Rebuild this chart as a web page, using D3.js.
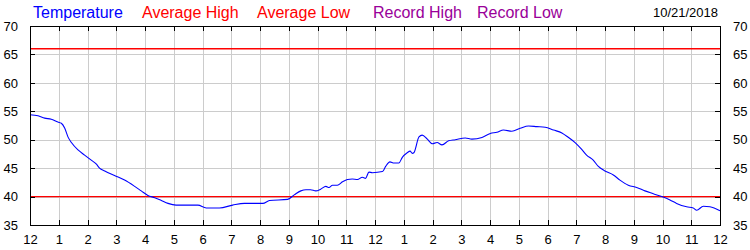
<!DOCTYPE html>
<html>
<head>
<meta charset="utf-8">
<script src="https://cdnjs.cloudflare.com/ajax/libs/d3/7.8.5/d3.min.js"></script>
<style>
  body { margin: 0; background: #fff; }
  svg { display: block; font-family: "Liberation Sans", Arial, sans-serif; }
  .grid line { stroke: #cccccc; shape-rendering: crispEdges; }
  .axis path, .axis line { stroke: #000; shape-rendering: crispEdges; }
  .axis text { font-size: 13px; fill: #000; }
</style>
</head>
<body>
<div id="chart"></div>
<script>
// hours since midnight and temperature readings (F)
var hours = [0, 0.28, 0.51, 0.74, 0.97, 1.09, 1.21, 1.32, 1.44, 1.67, 1.90, 2.13, 2.31, 2.42, 2.60, 2.94,
    3.29, 3.64, 3.87, 4.10, 4.34, 4.57, 4.80, 5.08, 5.84, 6.13, 6.59, 7.05, 7.46, 8.10, 8.33, 8.96,
    9.19, 9.42, 9.60, 9.76, 9.94, 10.11, 10.29, 10.40, 10.52, 10.69, 10.87, 11.04, 11.21, 11.39, 11.56,
    11.67, 11.79, 11.91, 12.26, 12.37, 12.52, 12.66, 12.83, 12.95, 13.12, 13.22, 13.30, 13.35, 13.53,
    13.64, 13.82, 13.99, 14.16, 14.33, 14.56, 14.79, 15.14, 15.37, 15.72, 16.01, 16.24, 16.47, 16.76,
    17.05, 17.34, 17.63, 17.92, 18.21, 18.50, 18.73, 18.96, 19.19, 19.36, 19.59, 19.77, 20.0, 20.29,
    20.52, 20.81, 21.10, 21.39, 21.68, 21.97, 22.26, 22.49, 22.84, 23.07, 23.19, 23.42, 23.65, 24.0];
var temps = [54.4, 54.2, 53.8, 53.6, 53.1, 52.9, 52.0, 50.5, 49.5, 48.2, 47.3, 46.4, 45.7, 45.0, 44.5, 43.7,
    42.9, 41.8, 41.0, 40.2, 39.8, 39.3, 38.8, 38.5, 38.5, 38.0, 38.0, 38.5, 38.8, 38.8, 39.3, 39.5,
    40.3, 41.0, 41.2, 41.2, 41.0, 41.3, 41.8, 41.6, 42.0, 42.0, 42.6, 43.0, 43.1, 43.0, 43.4,
    43.2, 44.3, 44.2, 44.4, 45.3, 46.1, 45.9, 45.9, 46.9, 47.7, 48.0, 47.6, 47.7, 50.5,
    50.8, 50.1, 49.3, 49.5, 49.1, 49.8, 50.0, 50.3, 50.1, 50.4, 51.1, 51.3, 51.7, 51.5,
    52.0, 52.4, 52.3, 52.2, 51.7, 51.2, 50.4, 49.5, 48.3, 47.3, 46.4, 45.3, 44.5, 43.8,
    42.9, 42.0, 41.6, 41.0, 40.5, 40.0, 39.4, 38.8, 38.2, 38.0, 37.6, 38.3, 38.2, 37.5];
var averageHigh = 66;
var averageLow = 40;
var hourLabels = ["12", "1", "2", "3", "4", "5", "6", "7", "8", "9", "10", "11",
    "12", "1", "2", "3", "4", "5", "6", "7", "8", "9", "10", "11", "12"];
var yTicks = [35, 40, 45, 50, 55, 60, 65, 70];
var legendNames = ["Temperature", "Average High", "Average Low", "Record High", "Record Low"];
var legendColors = ["#0000ff", "#ff0000", "#ff0000", "#990099", "#990099"];
var legendX = [33, 142, 257, 373, 477];
var dateLabel = "10/21/2018";

var w = 750, h = 250,
    margin = { top: 26, right: 30, bottom: 25, left: 30 },
    width = w - margin.left - margin.right,
    height = h - margin.top - margin.bottom;

var svg = d3.select("#chart").append("svg").attr("width", w).attr("height", h);

var x = d3.scaleLinear().domain([0, 24]).range([0, width]),
    y = d3.scaleLinear().domain([35, 70]).range([height, 0]);

var g = svg.append("g").attr("transform", "translate(" + margin.left + "," + margin.top + ")");

// grid
var grid = g.append("g").attr("class", "grid");
grid.selectAll(".vg").data(d3.range(1, 24)).enter().append("line")
    .attr("x1", function(d) { return Math.round(x(d)) + 0.5; })
    .attr("x2", function(d) { return Math.round(x(d)) + 0.5; })
    .attr("y1", 0).attr("y2", height);
grid.selectAll(".hg").data(yTicks.slice(1, -1)).enter().append("line")
    .attr("y1", function(d) { return Math.round(y(d)) + 0.5; })
    .attr("y2", function(d) { return Math.round(y(d)) + 0.5; })
    .attr("x1", 0).attr("x2", width);

// average lines
g.selectAll(".avg").data([averageHigh, averageLow]).enter().append("line")
    .attr("x1", 0).attr("x2", width)
    .attr("y1", function(d) { return y(d); })
    .attr("y2", function(d) { return y(d); })
    .attr("stroke", "#ff0000").attr("stroke-width", 1.3);

// temperature
var data = hours.map(function(hr, i) { return { h: hr, t: temps[i] }; });
var line = d3.line().x(function(d) { return x(d.h); }).y(function(d) { return y(d.t); }).curve(d3.curveMonotoneX);
g.append("path").datum(data).attr("d", line)
    .attr("fill", "none").attr("stroke", "#0000ff").attr("stroke-width", 1.1);

// axes
var ticksH = d3.range(0, 25);
g.append("g").attr("class", "axis").attr("transform", "translate(0," + height + ")")
    .call(d3.axisBottom(x).tickValues(ticksH).tickSize(-5).tickPadding(10).tickSizeOuter(0)
        .tickFormat(function(d, i) { return hourLabels[i]; }));
g.append("g").attr("class", "axis")
    .call(d3.axisTop(x).tickValues(ticksH).tickSize(-5).tickSizeOuter(0).tickFormat(""));
g.append("g").attr("class", "axis")
    .call(d3.axisLeft(y).tickValues(yTicks).tickSize(-5).tickPadding(12).tickSizeOuter(0));
g.append("g").attr("class", "axis").attr("transform", "translate(" + width + ",0)")
    .call(d3.axisRight(y).tickValues(yTicks).tickSize(-5).tickPadding(13).tickSizeOuter(0));

// legend
svg.selectAll(".legend").data(legendNames).enter().append("text")
    .attr("x", function(d, i) { return legendX[i]; })
    .attr("y", 18)
    .attr("fill", function(d, i) { return legendColors[i]; })
    .style("font-size", "16px")
    .text(function(d) { return d; });

svg.append("text").attr("x", 718).attr("y", 17).attr("text-anchor", "end")
    .style("font-size", "13px").text(dateLabel);
</script>
</body>
</html>
